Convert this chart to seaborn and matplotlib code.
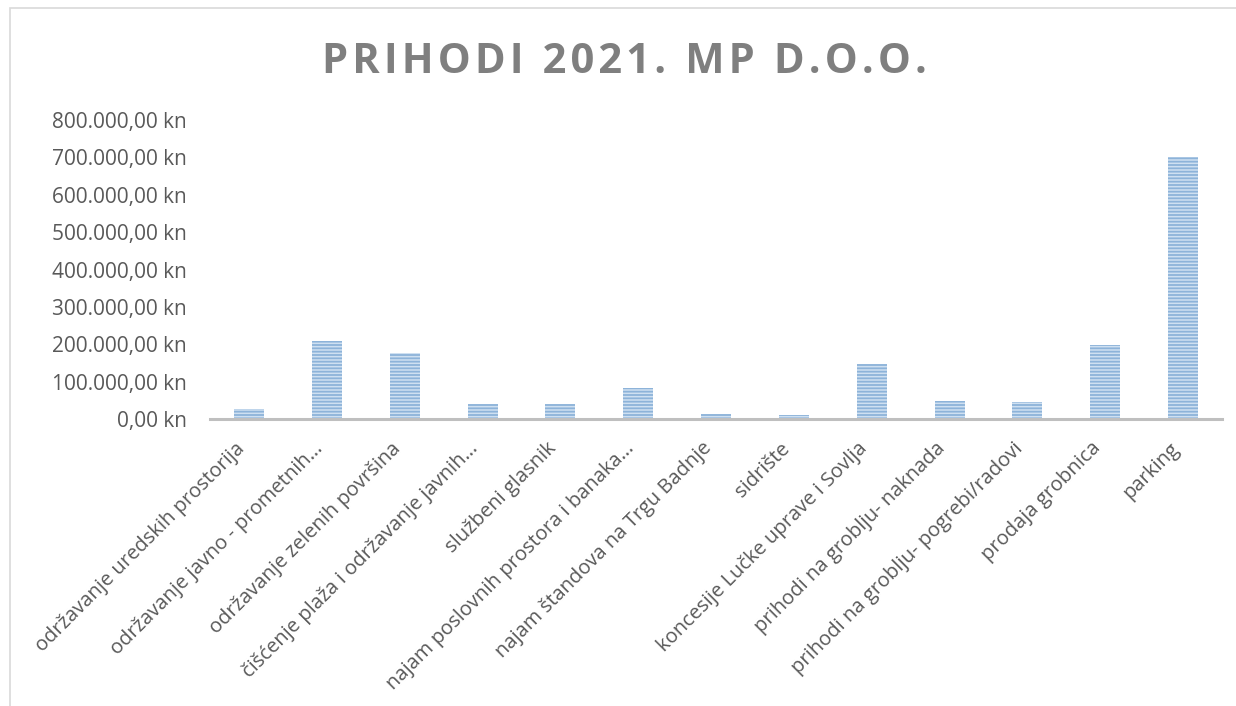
import matplotlib
matplotlib.use("Agg")
import matplotlib.pyplot as plt
import matplotlib.patches as mpatches
import seaborn as sns
import pandas as pd
from matplotlib.ticker import FuncFormatter

categories = [
    "održavanje uredskih prostorija",
    "održavanje javno - prometnih…",
    "održavanje zelenih površina",
    "čišćenje plaža i održavanje javnih…",
    "službeni glasnik",
    "najam poslovnih prostora i banaka…",
    "najam štandova na Trgu Badnje",
    "sidrište",
    "koncesije Lučke uprave i Sovlja",
    "prihodi na groblju- naknada",
    "prihodi na groblju- pogrebi/radovi",
    "prodaja grobnica",
    "parking",
]
values = [26000, 209000, 176000, 39000, 41000, 84000, 13000, 12000,
          147000, 48000, 45000, 198000, 700000]
yticks = [0, 100000, 200000, 300000, 400000, 500000, 600000, 700000, 800000]
title = "PRIHODI 2021. MP D.O.O."

sns.set_theme(style="white")
plt.rcParams['font.family'] = ['Open Sans', 'DejaVu Sans']
plt.rcParams['hatch.linewidth'] = 1.3

df = pd.DataFrame({"cat": categories, "val": values})

fig = plt.figure(figsize=(12.36, 7.06), dpi=100)
ax = fig.add_axes([0.170, 0.4065, 0.8187, 0.4235])

sns.barplot(data=df, x="cat", y="val", color="#cfe0f1", saturation=1,
            width=0.385, ax=ax, linewidth=0, edgecolor="#8db3d9")
for p in ax.patches:
    p.set_hatch("-----")
    p.set_edgecolor("#8db3d9")
    p.set_linewidth(0)

ax.set_ylim(0, 800000)
ax.set_xlim(-0.5, len(categories) - 0.5)
ax.set_yticks(yticks)

def fmt(v, pos):
    s = f"{v:,.2f}".replace(",", "X").replace(".", ",").replace("X", ".")
    return s + " kn"

ax.yaxis.set_major_formatter(FuncFormatter(fmt))
ax.set_xlabel("")
ax.set_ylabel("")
for s in ["top", "right", "left"]:
    ax.spines[s].set_visible(False)
ax.spines["bottom"].set_color("#bfbfbf")
ax.spines["bottom"].set_linewidth(2.2)
ax.tick_params(axis="y", length=0, pad=17, labelsize=15, labelcolor="#595959")
ax.tick_params(axis="x", length=0, pad=14, labelsize=14.5, labelcolor="#595959")
for lbl in ax.get_xticklabels():
    lbl.set_rotation(45)
    lbl.set_ha("right")
    lbl.set_va("top")
    lbl.set_rotation_mode("default")

hs = "\u200a"
spaced = hs.join(list(title))
fig.text(0.505, 0.911, spaced, ha="center", va="center", fontsize=30,
         fontweight="bold", color="#7f7f7f")

fig.patches.append(mpatches.Rectangle((10 / 1236, -0.01), 1.05, 1 - 8 / 706 + 0.01,
                                      transform=fig.transFigure, fill=False,
                                      edgecolor="#d9d9d9", linewidth=1.2))

fig.savefig("out.png", dpi=100)
